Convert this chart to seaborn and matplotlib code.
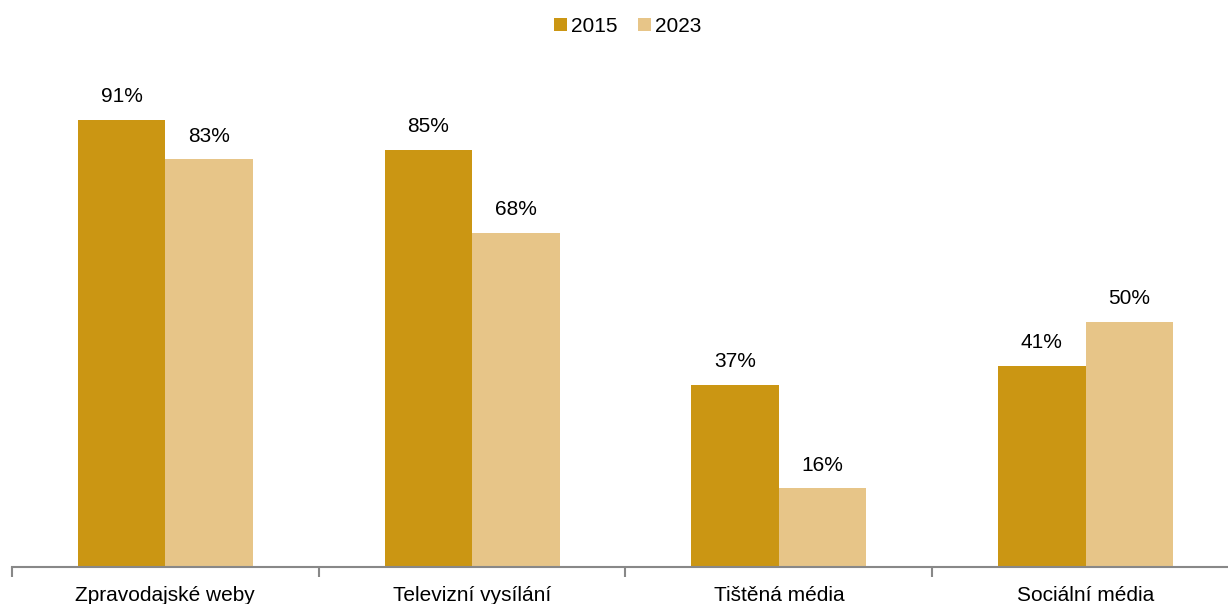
import matplotlib
matplotlib.use("Agg")
import matplotlib.pyplot as plt
import seaborn as sns
import pandas as pd
from matplotlib.patches import Patch

categories = ["Zpravodajské weby", "Televizní vysílání", "Tištěná média", "Sociální média"]
years = ["2015", "2023"]
values_2015 = [91, 85, 37, 41]
values_2023 = [83, 68, 16, 50]
colors = ["#CB9613", "#E7C588"]

df = pd.DataFrame({
    "cat": categories * 2,
    "year": [years[0]] * 4 + [years[1]] * 4,
    "val": values_2015 + values_2023,
})

sns.set_style("white")
plt.rcParams["font.family"] = ["Liberation Sans", "DejaVu Sans"]
plt.rcParams["text.color"] = "black"

fig = plt.figure(figsize=(12.28, 6.04), dpi=100)
ax = fig.add_axes([12/1228, 37/604, 1227/1228, (567-76)/604])
sns.barplot(data=df, x="cat", y="val", hue="year", palette=colors, width=0.57,
            saturation=1, ax=ax, legend=False, linewidth=0, edgecolor="none")

for cont in ax.containers:
    ax.bar_label(cont, labels=[f"{v:.0f}%" for v in cont.datavalues], padding=10,
                 fontsize=15, color="black")

ax.set_ylim(0, 100)
ax.set_xlim(-0.5, 3.5)
ax.set_xlabel("")
ax.set_ylabel("")
ax.set_yticks([])
for s in ["top", "right", "left"]:
    ax.spines[s].set_visible(False)
ax.spines["bottom"].set_color("#888888")
ax.spines["bottom"].set_linewidth(1.5)
ax.set_xticks(range(4))
ax.set_xticklabels(categories, fontsize=15, color="black")
ax.tick_params(axis="x", which="major", bottom=False, length=0, pad=13.5)
ax.set_xticks([-0.5, 0.5, 1.5, 2.5], minor=True)
ax.tick_params(axis="x", which="minor", bottom=True, length=7, width=1.5,
               color="#888888", direction="out")

handles = [Patch(facecolor=c, label=y, linewidth=0) for c, y in zip(colors, years)]
fig.legend(handles=handles, loc="center", bbox_to_anchor=(628/1228, 1 - 26/604), ncol=2,
           frameon=False, fontsize=15, handlelength=0.6, handleheight=0.6,
           handletextpad=0.2, columnspacing=1.0)

fig.savefig("out.png", dpi=100)
